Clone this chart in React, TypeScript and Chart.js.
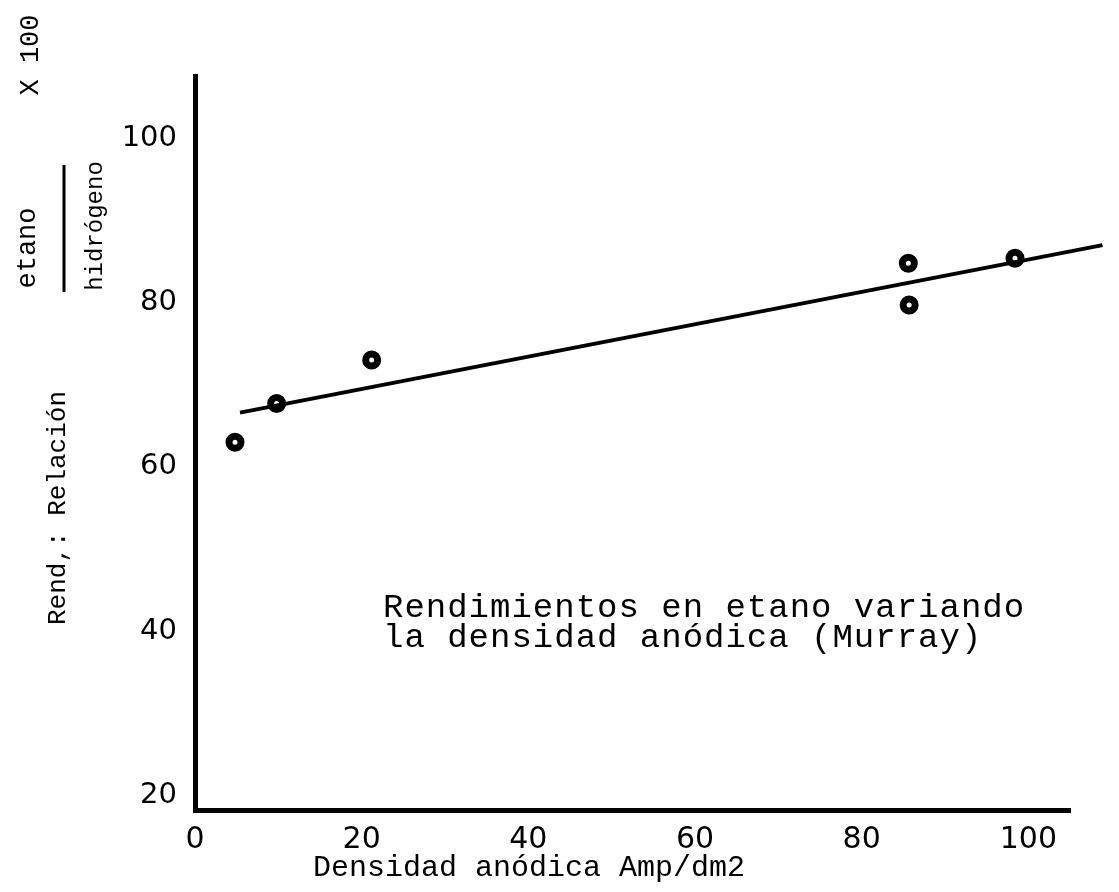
import React, { useEffect, useRef } from "react";
import { Chart, registerables } from "chart.js";

Chart.register(...registerables);

// ---- data ----
const xTickValues = [0, 20, 40, 60, 80, 100];
const yTickValues = [20, 40, 60, 80, 100];
const densidad = [4.8, 9.8, 21.2, 85.6, 85.7, 98.4];
const rendimiento = [63.0, 67.7, 73.0, 84.8, 79.7, 85.4];
const fitX = [5.4, 108.9];
const fitY = [66.6, 87.0];

const xTitle = "Densidad anódica Amp/dm2";
const yTitleMain = "Rend,: Relación";
const yTitleNum = "etano";
const yTitleDen = "hidrógeno";
const yTitleFactor = "X 100";
const noteLines = ["Rendimientos en etano variando", "la densidad anódica (Murray)"];

const MONO = "'Liberation Mono', 'DejaVu Sans Mono', monospace";
const SANS = "'DejaVu Sans', sans-serif";

const textPlugin = {
  id: "textPlugin",
  afterDraw(chart: any) {
    const ctx = chart.ctx as CanvasRenderingContext2D;
    ctx.save();
    ctx.fillStyle = "#000";
    ctx.strokeStyle = "#000";

    const rot = (txt: string, x: number, y: number, size: number, spacing: number) => {
      ctx.save();
      ctx.translate(x, y);
      ctx.rotate(-Math.PI / 2);
      ctx.font = `${size}px ${MONO}`;
      (ctx as any).letterSpacing = `${spacing}px`;
      ctx.textAlign = "center";
      ctx.textBaseline = "middle";
      ctx.fillText(txt, 0, 0);
      ctx.restore();
    };
    rot(yTitleMain, 58, 508, 26, 0);
    rot(yTitleNum, 28, 248, 27, 0);
    rot(yTitleDen, 96, 226, 24, 0);
    rot(yTitleFactor, 31, 55, 27, 0);
    ctx.lineWidth = 3;
    ctx.beginPath();
    ctx.moveTo(64, 292);
    ctx.lineTo(64, 165);
    ctx.stroke();

    ctx.font = `30px ${MONO}`;
    (ctx as any).letterSpacing = "0px";
    ctx.textAlign = "left";
    ctx.textBaseline = "middle";
    ctx.fillText(xTitle, 313, 868);

    ctx.font = `34px ${MONO}`;
    (ctx as any).letterSpacing = "1px";
    ctx.textBaseline = "alphabetic";
    ctx.fillText(noteLines[0], 383, 617);
    ctx.fillText(noteLines[1], 383, 647);
    ctx.restore();
  },
};

export default function App() {
  const canvasRef = useRef<HTMLCanvasElement | null>(null);

  useEffect(() => {
    if (!canvasRef.current) return;
    const chart = new Chart(canvasRef.current, {
      type: "scatter",
      data: {
        datasets: [
          {
            type: "line",
            data: fitX.map((x, i) => ({ x, y: fitY[i] })),
            borderColor: "#000",
            borderWidth: 4,
            pointRadius: 0,
            showLine: true,
            fill: false,
            clip: false,
          } as any,
          {
            type: "scatter",
            data: densidad.map((x, i) => ({ x, y: rendimiento[i] })),
            pointRadius: 6,
            pointBorderWidth: 7,
            pointBackgroundColor: "#fff",
            pointBorderColor: "#000",
            clip: false,
          } as any,
        ],
      },
      options: {
        responsive: false,
        animation: false,
        layout: { padding: { top: 76, right: 49, left: 0, bottom: 0 } },
        plugins: { legend: { display: false }, tooltip: { enabled: false }, title: { display: false } },
        scales: {
          x: {
            type: "linear",
            min: 0,
            max: 105,
            afterBuildTicks: (s: any) => {
              s.ticks = xTickValues.map((v) => ({ value: v }));
            },
            afterFit: (s: any) => {
              s.height = 82;
            },
            grid: { display: false, drawTicks: false },
            border: { display: true, color: "#000", width: 5 },
            ticks: {
              color: "#000",
              font: { family: SANS, size: 30 },
              padding: 12,
              maxRotation: 0,
              autoSkip: false,
            },
          },
          y: {
            type: "linear",
            min: 18.2,
            max: 107.6,
            afterBuildTicks: (s: any) => {
              s.ticks = yTickValues.map((v) => ({ value: v }));
            },
            afterFit: (s: any) => {
              s.width = 195;
            },
            grid: { display: false, drawTicks: false },
            border: { display: true, color: "#000", width: 5 },
            ticks: {
              color: "#000",
              font: { family: SANS, size: 29 },
              padding: 18,
              autoSkip: false,
            },
          },
        },
      },
      plugins: [textPlugin],
    });
    return () => chart.destroy();
  }, []);

  return (
    <div style={{ position: "absolute", left: 0, top: 0, width: 1119, height: 892, background: "#fff" }}>
      <canvas ref={canvasRef} width={1119} height={892} style={{ display: "block" }} />
    </div>
  );
}
